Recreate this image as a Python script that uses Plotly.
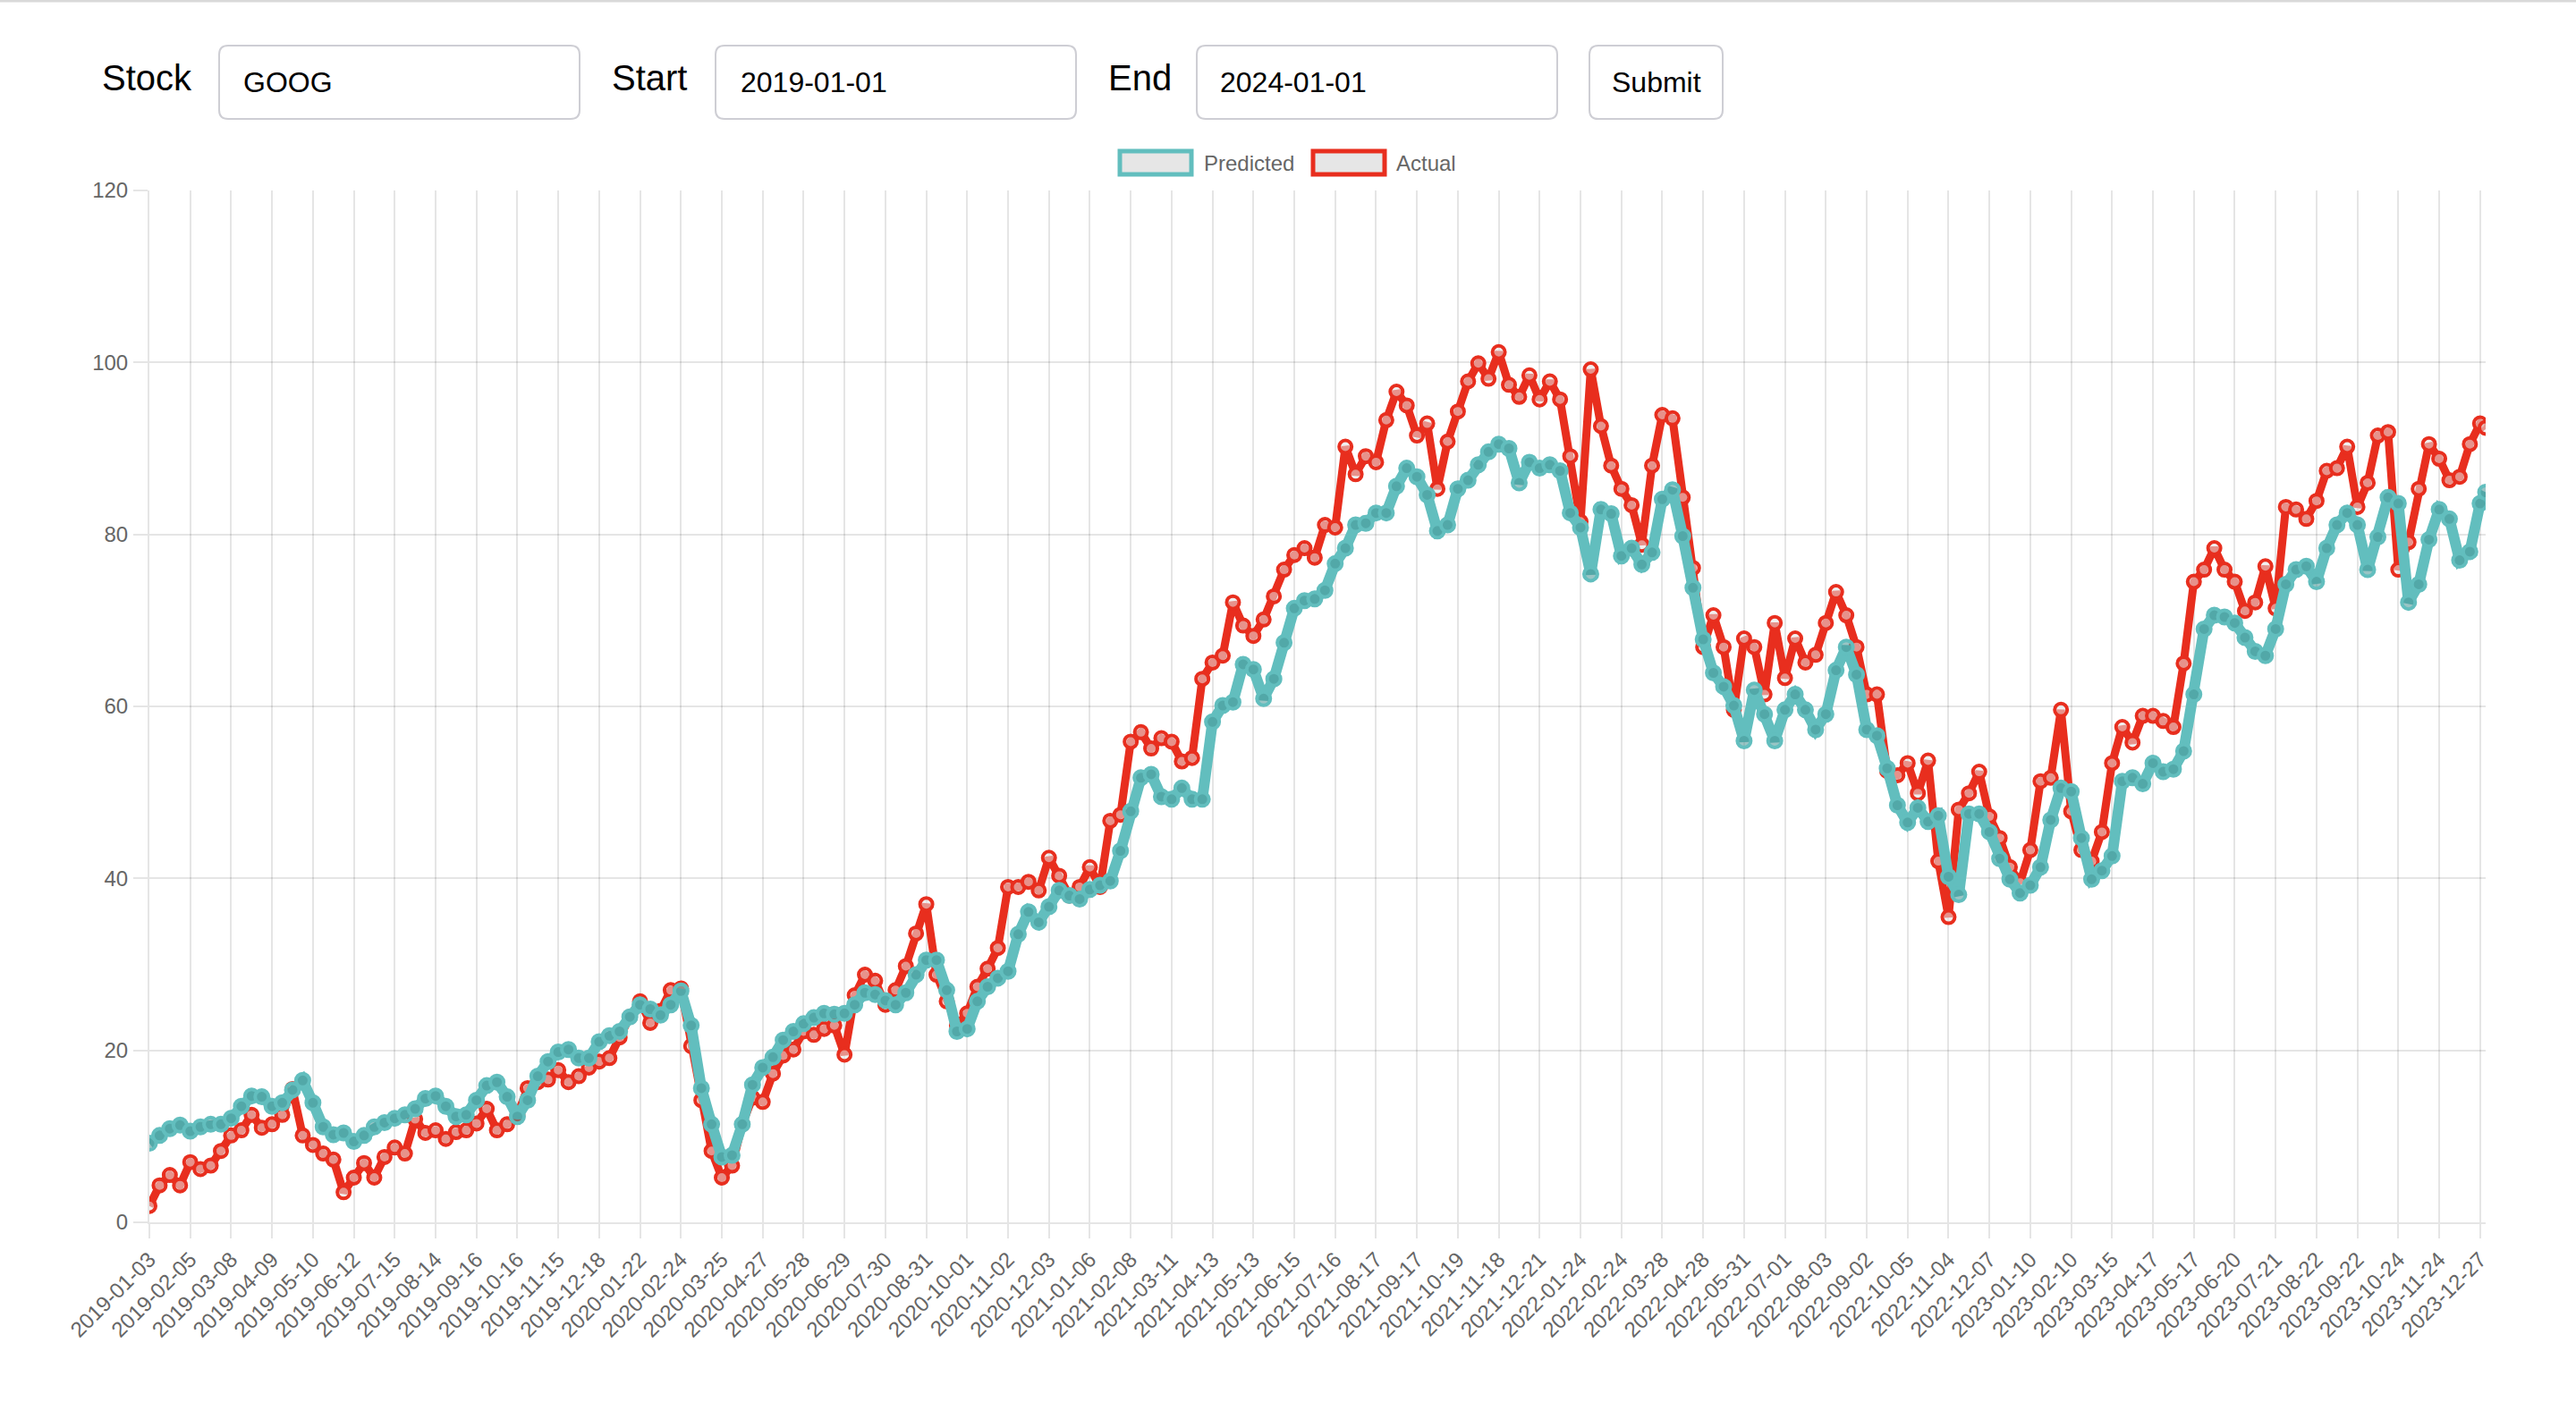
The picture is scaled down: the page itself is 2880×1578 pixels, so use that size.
import plotly.graph_objects as go

# ---------------- data ----------------
tick_labels = [
    "2019-01-03", "2019-02-05", "2019-03-08", "2019-04-09", "2019-05-10", "2019-06-12",
    "2019-07-15", "2019-08-14", "2019-09-16", "2019-10-16", "2019-11-15", "2019-12-18",
    "2020-01-22", "2020-02-24", "2020-03-25", "2020-04-27", "2020-05-28", "2020-06-29",
    "2020-07-30", "2020-08-31", "2020-10-01", "2020-11-02", "2020-12-03", "2021-01-06",
    "2021-02-08", "2021-03-11", "2021-04-13", "2021-05-13", "2021-06-15", "2021-07-16",
    "2021-08-17", "2021-09-17", "2021-10-19", "2021-11-18", "2021-12-21", "2022-01-24",
    "2022-02-24", "2022-03-28", "2022-04-28", "2022-05-31", "2022-07-01", "2022-08-03",
    "2022-09-02", "2022-10-05", "2022-11-04", "2022-12-07", "2023-01-10", "2023-02-10",
    "2023-03-15", "2023-04-17", "2023-05-17", "2023-06-20", "2023-07-21", "2023-08-22",
    "2023-09-22", "2023-10-24", "2023-11-24", "2023-12-27",
]
tick_days = [22 * i for i in range(len(tick_labels))]   # trading-day index of each label
last_day = 1257                                          # 2023-12-29

predicted = [
    9.2, 10.1, 10.9, 11.3, 10.6, 11.1, 11.4, 11.4, 12.1, 13.5, 14.7, 14.6, 13.5, 13.9, 15.4, 16.5,
    13.9, 11.1, 10.2, 10.4, 9.4, 10.1, 11.1, 11.6, 12.1, 12.5, 13.2, 14.4, 14.7, 13.5, 12.3,
    12.5, 14.2, 15.9, 16.3, 14.6, 12.3, 14.2, 17.0, 18.7, 19.8, 20.1, 19.1, 19.1, 21.0, 21.7,
    22.2, 23.9, 25.3, 24.8, 24.1, 25.3, 26.9, 22.9, 15.6, 11.4, 7.6, 7.8, 11.4, 16.0,
    18.0, 19.2, 21.2, 22.2, 23.1, 23.8, 24.3, 24.2, 24.3, 25.3, 26.7, 26.5, 25.8, 25.3, 26.7,
    28.8, 30.5, 30.5, 27.0, 22.2, 22.5, 25.7, 27.4, 28.4, 29.2,
    33.5, 36.1, 34.9, 36.7, 38.6, 38.0, 37.6, 38.7, 39.2, 39.7, 43.2, 47.8, 51.7, 52.1, 49.5,
    49.2, 50.5, 49.2, 49.2, 58.2, 60.1, 60.5, 64.9, 64.3, 60.9, 63.2, 67.4, 71.4,
    72.3, 72.5, 73.5, 76.6, 78.4, 81.1, 81.3, 82.5, 82.5, 85.6, 87.7, 86.7, 84.6, 80.4, 81.1,
    85.3, 86.3, 88.1, 89.6, 90.5, 90.0, 86.0, 88.4, 87.7, 88.1, 87.4, 82.5, 80.8,
    75.4, 82.9, 82.4, 77.5, 78.4, 76.5, 77.9, 84.1, 85.2, 79.8, 73.8, 67.8, 63.9, 62.3, 60.1,
    56.0, 61.9, 59.1, 56.0, 59.6, 61.4, 59.6, 57.3, 59.1, 64.2, 66.9, 63.7, 57.3, 56.6, 52.8,
    48.5, 46.5, 48.2, 46.6, 47.3, 40.2, 38.1, 47.5, 47.5, 45.4, 42.3, 39.9, 38.3, 39.2, 41.3,
    46.8, 50.5, 50.1, 44.7, 39.9, 40.9, 42.6, 51.3, 51.7, 51.0, 53.4, 52.4, 52.7, 54.8,
    61.4, 69.0, 70.6, 70.4, 69.7, 68.0, 66.4, 65.9, 69.0, 74.2, 75.9, 76.3, 74.5, 78.4, 81.1,
    82.5, 81.1, 75.9, 79.7, 84.3, 83.6, 72.1, 74.2, 79.4, 82.9, 81.8, 77.0, 78.0, 83.6,
    84.9,
]

actual = [
    1.9, 4.3, 5.5, 4.3, 7.0, 6.2, 6.6, 8.3, 10.1, 10.7, 12.5, 11.0, 11.4, 12.5, 15.5, 10.1,
    9.0, 8.0, 7.3, 3.5, 5.2, 6.9, 5.2, 7.6, 8.7, 8.0, 12.0, 10.4, 10.7, 9.7, 10.5,
    10.7, 11.5, 13.2, 10.7, 11.4, 12.5, 15.6, 16.3, 16.6, 17.7, 16.3, 17.0, 18.0, 18.7, 19.1,
    21.5, 23.9, 25.7, 23.2, 24.6, 27.0, 27.2, 20.5, 14.2, 8.3, 5.2, 6.6, 11.4, 14.5,
    14.0, 17.3, 19.4, 20.1, 22.2, 21.8, 22.5, 22.9, 19.5, 26.4, 28.8, 28.1, 25.3, 27.0, 29.8,
    33.6, 37.0, 28.8, 25.7, 22.9, 24.3, 27.4, 29.5, 31.9, 39.0,
    39.0, 39.6, 38.6, 42.4, 40.3, 38.0, 39.0, 41.3, 39.0, 46.7, 47.4, 55.9, 57.0, 55.1, 56.3,
    55.9, 53.6, 54.0, 63.2, 65.1, 65.9, 72.1, 69.4, 68.2, 70.1, 72.8, 75.9, 77.6,
    78.4, 77.3, 81.1, 80.8, 90.2, 87.0, 89.1, 88.4, 93.3, 96.6, 95.0, 91.5, 92.9, 85.3, 90.8,
    94.3, 97.8, 99.9, 98.1, 101.2, 97.4, 96.0, 98.5, 95.7, 97.8, 95.7, 89.1, 81.5,
    99.2, 92.6, 88.0, 85.3, 83.4, 78.8, 88.0, 93.9, 93.5, 84.3, 76.1, 66.9, 70.6, 66.9, 59.6,
    67.9, 66.9, 61.4, 69.7, 63.3, 67.9, 65.1, 66.0, 69.7, 73.3, 70.6, 66.9, 61.4, 61.4, 52.5,
    52.0, 53.4, 49.9, 53.7, 42.0, 35.5, 48.0, 49.9, 52.4, 47.2, 44.7, 41.3, 39.5, 43.3, 51.3,
    51.7, 59.6, 47.8, 43.3, 42.0, 45.4, 53.4, 57.6, 55.8, 58.9, 58.9, 58.3, 57.6, 65.0,
    74.5, 75.9, 78.4, 75.9, 74.5, 71.1, 72.1, 76.3, 71.4, 83.2, 82.9, 81.8, 83.9, 87.4, 87.7,
    90.2, 83.2, 86.0, 91.5, 91.9, 75.9, 79.1, 85.3, 90.5, 88.8, 86.3, 86.7, 90.5, 92.9,
    92.4,
]

# sampled trading-day positions of the values above (every quarter label interval, plus the last day)
sample_days = [i * 5.5 for i in range(len(predicted) - 1)] + [last_day]

stock_symbol = "GOOG"
start_date = "2019-01-01"
end_date = "2024-01-01"

# ---------------- styling ----------------
TEAL = "rgb(98,190,190)"
RED = "rgb(232,46,30)"
GRID = "rgba(0,0,0,0.1)"
TXT = "#666666"
FONT = "Liberation Sans, Arial, Helvetica, sans-serif"

W, H = 2880, 1578
L, R, T, B = 167, 2779, 213, 1367
PW, PH = R - L, B - T


def px(x):
    return (x - L) / PW


def py(y):
    return (B - y) / PH


def rounded_rect(x0, y0, x1, y1, r):
    rx, ry = r / PW, r / PH
    a0, a1 = px(x0), px(x1)
    b0, b1 = py(y1), py(y0)  # bottom, top in paper coords
    return (f"M {a0+rx},{b0} L {a1-rx},{b0} Q {a1},{b0} {a1},{b0+ry} "
            f"L {a1},{b1-ry} Q {a1},{b1} {a1-rx},{b1} L {a0+rx},{b1} "
            f"Q {a0},{b1} {a0},{b1-ry} L {a0},{b0+ry} Q {a0},{b0} {a0+rx},{b0} Z")


fig = go.Figure()

fig.add_trace(go.Scatter(
    x=sample_days, y=actual, name="Actual", mode="lines+markers",
    line=dict(color=RED, width=9),
    marker=dict(size=14, color="rgba(230,230,230,0.55)", line=dict(color=RED, width=4)),
    showlegend=False,
))
fig.add_trace(go.Scatter(
    x=sample_days, y=predicted, name="Predicted", mode="lines+markers",
    line=dict(color=TEAL, width=12),
    marker=dict(size=15, color="rgba(70,150,150,0.55)", line=dict(color=TEAL, width=4)),
    showlegend=False,
))

shapes = []
annotations = []

# top window border line
shapes.append(dict(type="line", xref="paper", yref="paper", x0=px(0), x1=px(W),
                   y0=py(1), y1=py(1), line=dict(color="#d9d9d9", width=3)))

# header form
BOX_Y0, BOX_Y1 = 51, 133
for (x0, x1) in [(245, 648), (800, 1203), (1338, 1741), (1777, 1926)]:
    shapes.append(dict(type="path", xref="paper", yref="paper",
                       path=rounded_rect(x0, BOX_Y0, x1, BOX_Y1, 10),
                       line=dict(color="rgb(206,206,212)", width=2), fillcolor="white"))

for text, x in [("Stock", 112), ("Start", 682), ("End", 1237)]:
    annotations.append(dict(text=text, x=px(x), y=py(87), xref="paper", yref="paper",
                            xanchor="left", yanchor="middle", showarrow=False,
                            font=dict(family=FONT, size=40, color="black")))
for text, x in [(stock_symbol, 270), (start_date, 826), (end_date, 1362)]:
    annotations.append(dict(text=text, x=px(x), y=py(92), xref="paper", yref="paper",
                            xanchor="left", yanchor="middle", showarrow=False,
                            font=dict(family=FONT, size=32, color="black")))
annotations.append(dict(text="Submit", x=px(1851.5), y=py(92), xref="paper", yref="paper",
                        xanchor="center", yanchor="middle", showarrow=False,
                        font=dict(family=FONT, size=32, color="black")))

# legend (Chart.js style boxes)
for (x0, x1, col, label, lx) in [(1252, 1332, TEAL, "Predicted", 1344),
                                 (1468, 1548, RED, "Actual", 1559)]:
    shapes.append(dict(type="rect", xref="paper", yref="paper",
                       x0=px(x0), x1=px(x1), y0=py(195), y1=py(169),
                       line=dict(color=col, width=5), fillcolor="#e6e6e6"))
    annotations.append(dict(text=label, x=px(lx), y=py(182), xref="paper", yref="paper",
                            xanchor="left", yanchor="middle", showarrow=False,
                            font=dict(family=FONT, size=24, color=TXT)))

fig.update_layout(
    width=W, height=H,
    margin=dict(l=L, r=W - R, t=T, b=H - B, pad=0),
    paper_bgcolor="white", plot_bgcolor="white",
    shapes=shapes, annotations=annotations,
    showlegend=False,
    font=dict(family=FONT, size=24, color=TXT),
    xaxis=dict(
        range=[0, last_day], tickmode="array", tickvals=tick_days, ticktext=tick_labels,
        tickangle=-45, showgrid=True, gridcolor=GRID, gridwidth=2,
        ticks="outside", ticklen=16, tickwidth=2, tickcolor=GRID,
        showline=True, linecolor=GRID, linewidth=2, zeroline=False,
        tickfont=dict(family=FONT, size=24, color=TXT),
    ),
    yaxis=dict(
        range=[0, 120], tickmode="array", tickvals=[0, 20, 40, 60, 80, 100, 120],
        showgrid=True, gridcolor=GRID, gridwidth=2,
        ticks="outside", ticklen=16, tickwidth=2, tickcolor=GRID,
        showline=True, linecolor=GRID, linewidth=2, zeroline=False,
        tickfont=dict(family=FONT, size=24, color=TXT), ticklabelstandoff=1,
    ),
)

fig.write_html("out.html", config={"displayModeBar": False},
               post_script="document.body.style.margin='0';document.body.style.overflow='hidden';")
